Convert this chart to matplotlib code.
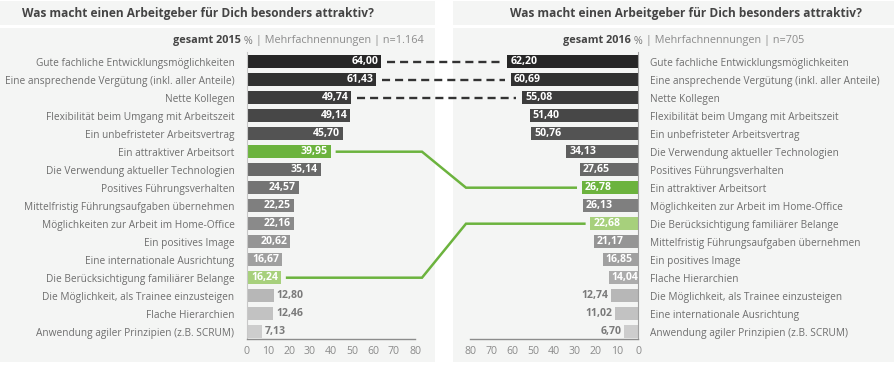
import matplotlib
matplotlib.use("Agg")
import matplotlib.pyplot as plt
from matplotlib.patches import Rectangle
from matplotlib.lines import Line2D
import numpy as np

plt.rcParams['font.family'] = ['Open Sans', 'DejaVu Sans']
plt.rcParams['lines.scale_dashes'] = False

title = "Was macht einen Arbeitgeber für Dich besonders attraktiv?"

cats_2015 = ["Gute fachliche Entwicklungsmöglichkeiten",
             "Eine ansprechende Vergütung (inkl. aller Anteile)",
             "Nette Kollegen",
             "Flexibilität beim Umgang mit Arbeitszeit",
             "Ein unbefristeter Arbeitsvertrag",
             "Ein attraktiver Arbeitsort",
             "Die Verwendung aktueller Technologien",
             "Positives Führungsverhalten",
             "Mittelfristig Führungsaufgaben übernehmen",
             "Möglichkeiten zur Arbeit im Home-Office",
             "Ein positives Image",
             "Eine internationale Ausrichtung",
             "Die Berücksichtigung familiärer Belange",
             "Die Möglichkeit, als Trainee einzusteigen",
             "Flache Hierarchien",
             "Anwendung agiler Prinzipien (z.B. SCRUM)"]
vals_2015 = [64.00, 61.43, 49.74, 49.14, 45.70, 39.95, 35.14, 24.57,
             22.25, 22.16, 20.62, 16.67, 16.24, 12.80, 12.46, 7.13]

cats_2016 = ["Gute fachliche Entwicklungsmöglichkeiten",
             "Eine ansprechende Vergütung (inkl. aller Anteile)",
             "Nette Kollegen",
             "Flexibilität beim Umgang mit Arbeitszeit",
             "Ein unbefristeter Arbeitsvertrag",
             "Die Verwendung aktueller Technologien",
             "Positives Führungsverhalten",
             "Ein attraktiver Arbeitsort",
             "Möglichkeiten zur Arbeit im Home-Office",
             "Die Berücksichtigung familiärer Belange",
             "Mittelfristig Führungsaufgaben übernehmen",
             "Ein positives Image",
             "Flache Hierarchien",
             "Die Möglichkeit, als Trainee einzusteigen",
             "Eine internationale Ausrichtung",
             "Anwendung agiler Prinzipien (z.B. SCRUM)"]
vals_2016 = [62.20, 60.69, 55.08, 51.40, 50.76, 34.13, 27.65, 26.78,
             26.13, 22.68, 21.17, 16.85, 14.04, 12.74, 11.02, 6.70]

header_2015 = ["gesamt 2015", " %", " | Mehrfachnennungen | n=1.164"]
header_2016 = ["gesamt 2016", " %", " | Mehrfachnennungen | n=705"]
dashed_items = ["Gute fachliche Entwicklungsmöglichkeiten",
                "Eine ansprechende Vergütung (inkl. aller Anteile)",
                "Nette Kollegen"]
green_dark_item = "Ein attraktiver Arbeitsort"
green_light_item = "Die Berücksichtigung familiärer Belange"
xticks = [0, 10, 20, 30, 40, 50, 60, 70, 80]

W, H = 894, 368
fig = plt.figure(figsize=(W / 100, H / 100), dpi=100)
fig.patch.set_facecolor("white")

def fx(x): return x / W
def fy(y): return 1 - y / H

BG = "#f4f5f4"
for (x0, x1) in [(0, 435), (453, 894)]:
    fig.patches.append(Rectangle((fx(x0), fy(25)), fx(x1) - fx(x0), fy(1) - fy(25),
                                 transform=fig.transFigure, facecolor=BG, edgecolor="none", zorder=-5))
    fig.patches.append(Rectangle((fx(x0), fy(362)), fx(x1) - fx(x0), fy(28) - fy(362),
                                 transform=fig.transFigure, facecolor=BG, edgecolor="none", zorder=-5))

fig.text(fx(22), fy(13.5), title, fontsize=8.55, fontweight="bold", color="#444444", va="center", ha="left")
fig.text(fx(510), fy(13.5), title, fontsize=8.55, fontweight="bold", color="#444444", va="center", ha="left")

n = len(cats_2015)
grays = [matplotlib.colors.to_hex(c) for c in
         np.linspace(matplotlib.colors.to_rgb("#262626"), matplotlib.colors.to_rgb("#cdcdcd"), n)]
GREEN = "#6cb33e"
LGREEN = "#a7d07c"

ymin_px, ymax_px = 52, 339
row0_px = 61.7
step = 18.0
ylo = (ymax_px - row0_px) / step
yhi = (ymin_px - row0_px) / step

axL = fig.add_axes([fx(247), fy(ymax_px), fx(415) - fx(247), fy(ymin_px) - fy(ymax_px)])
axR = fig.add_axes([fx(470), fy(ymax_px), fx(638) - fx(470), fy(ymin_px) - fy(ymax_px)])

def fmt(v):
    return f"{v:.2f}".replace(".", ",")

for ax, cats, vals, side in [(axL, cats_2015, vals_2015, "L"), (axR, cats_2016, vals_2016, "R")]:
    ax.set_facecolor("none")
    y = np.arange(len(cats))
    colors = []
    for i, c in enumerate(cats):
        if c == green_dark_item:
            colors.append(GREEN)
        elif c == green_light_item:
            colors.append(LGREEN)
        else:
            colors.append(grays[i])
    ax.barh(y, vals, height=0.7, color=colors, zorder=2)
    ax.set_ylim(ylo, yhi)
    if side == "L":
        ax.set_xlim(0, 80)
    else:
        ax.set_xlim(80, 0)
    ax.set_xticks(xticks)
    ax.set_xticklabels([str(t) for t in xticks], fontsize=7.6, color="#8a8a8a")
    ax.set_yticks(y)
    ax.set_yticklabels(cats, fontsize=7.3, color="#6e6e6e")
    ax.tick_params(axis="both", length=0)
    ax.tick_params(axis="x", pad=5)
    for s in ["top"]:
        ax.spines[s].set_visible(False)
    ax.spines["bottom"].set_color("#8c8c8c")
    ax.spines["bottom"].set_linewidth(1.0)
    if side == "L":
        ax.spines["right"].set_visible(False)
        ax.spines["left"].set_color("#c8c8c8")
        ax.spines["left"].set_linewidth(0.8)
        ax.tick_params(axis="y", pad=9)
    else:
        ax.spines["left"].set_visible(False)
        ax.spines["right"].set_color("#a0a0a0")
        ax.spines["right"].set_linewidth(0.8)
        ax.yaxis.tick_right()
        ax.tick_params(axis="y", pad=9)
        for lab in ax.get_yticklabels():
            lab.set_ha("left")
    for i, v in enumerate(vals):
        inside = v >= 14
        if side == "L":
            if inside:
                ax.annotate(fmt(v), (v, i), xytext=(-2, 0), textcoords="offset points",
                            ha="right", va="center", fontsize=7.6, fontweight="bold", color="white", zorder=3)
            else:
                ax.annotate(fmt(v), (v, i), xytext=(2, 0), textcoords="offset points",
                            ha="left", va="center", fontsize=7.6, fontweight="bold", color="#7a7a7a", zorder=3)
        else:
            if inside:
                ax.annotate(fmt(v), (v, i), xytext=(2, 0), textcoords="offset points",
                            ha="left", va="center", fontsize=7.6, fontweight="bold", color="white", zorder=3)
            else:
                ax.annotate(fmt(v), (v, i), xytext=(-2, 0), textcoords="offset points",
                            ha="right", va="center", fontsize=7.6, fontweight="bold", color="#7a7a7a", zorder=3)

# headers (multi-colored)
fig.canvas.draw()
renderer = fig.canvas.get_renderer()
hdr_styles = [dict(fontweight="bold", color="#444444"), dict(color="#7a7a7a"), dict(color="#8c8c8c")]

def draw_header(parts, x_start_px, y_px):
    x = x_start_px
    for p, st in zip(parts, hdr_styles):
        t = fig.text(fx(x), fy(y_px), p, fontsize=7.8, va="center", ha="left", **st)
        bb = t.get_window_extent(renderer=renderer)
        x += bb.width

draw_header(header_2015, 173, 41)
draw_header(header_2016, 563, 41)

inv = fig.transFigure.inverted()

def to_fig(ax, x, y, dx=0):
    p = ax.transData.transform((x, y))
    p = (p[0] + dx, p[1])
    return inv.transform(p)

for item in dashed_items:
    iL = cats_2015.index(item)
    iR = cats_2016.index(item)
    p1 = to_fig(axL, vals_2015[iL], iL, 6)
    p2 = to_fig(axR, vals_2016[iR], iR, -6)
    ln = Line2D([p1[0], p2[0]], [p1[1], p2[1]], transform=fig.transFigure, color="#333333",
                lw=1.7, dashes=(5.8, 3.6), zorder=5)
    fig.lines.append(ln)

for item in [green_dark_item, green_light_item]:
    iL = cats_2015.index(item)
    iR = cats_2016.index(item)
    p1 = to_fig(axL, vals_2015[iL], iL, 6)
    p2 = to_fig(axL, 80, iL, 7)
    p3 = to_fig(axR, 80, iR, -4)
    p4 = to_fig(axR, vals_2016[iR], iR, -6)
    xs = [p1[0], p2[0], p3[0], p4[0]]
    ys = [p1[1], p2[1], p3[1], p4[1]]
    ln = Line2D(xs, ys, transform=fig.transFigure, color=GREEN, lw=1.8, zorder=5,
                solid_joinstyle="miter")
    fig.lines.append(ln)

fig.savefig("out.png", dpi=100, facecolor="white")
